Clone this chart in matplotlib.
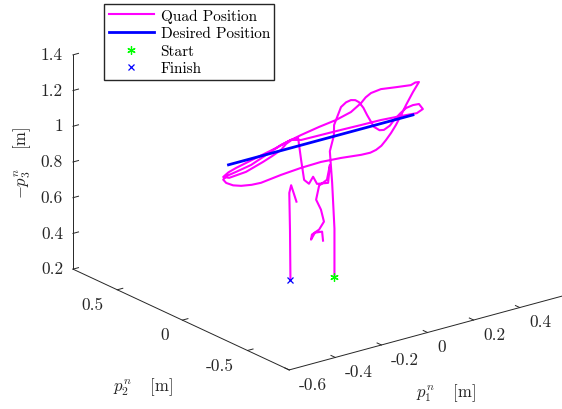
import numpy as np
import matplotlib
matplotlib.use('Agg')
import matplotlib.pyplot as plt
from mpl_toolkits.mplot3d import proj3d

plt.rcParams['font.family'] = 'cmr10'
plt.rcParams['mathtext.fontset'] = 'cm'
plt.rcParams['axes.unicode_minus'] = False

# desired straight-line path
des_x = [-0.4, 0.4]
des_y = [0.0, 0.0]
des_z = [1.0, 1.0]

takeoff_x = [0.02, 0.02, 0.01, 0.00]
takeoff_y = [-0.07, -0.07, -0.07, -0.07]
takeoff_z = [0.25, 0.52, 0.78, 0.96]

sweep_x = [0.040, 0.058, 0.088, 0.110, 0.131, 0.150, 0.166, 0.185, 0.201, 0.231,
           0.255, 0.274, 0.300, 0.318, 0.345, 0.370, 0.400, 0.426, 0.443, 0.417,
           0.348, 0.261, 0.175, 0.088, 0.001, -0.085, -0.129, -0.172, -0.237, -0.302,
           -0.367, -0.410, -0.423, -0.410, -0.380, -0.345, -0.300, -0.259, -0.172, -0.085,
           0.001, 0.088, 0.175, 0.215, 0.240, 0.263, 0.283, 0.305, 0.326, 0.350,
           0.370, 0.400, 0.426, 0.410, 0.391, 0.326, 0.261, 0.218, 0.195, 0.175,
           0.131, 0.066, -0.007, -0.085, -0.120, -0.150, -0.172, -0.210, -0.250, -0.324,
           -0.397, -0.423, -0.400, -0.367, -0.280, -0.194, -0.129, -0.098]
sweep_y = [-0.03, 0.00, 0.00, 0.00, 0.00, 0.00, 0.00, 0.00, 0.00, 0.00,
           0.00, 0.00, 0.00, 0.00, 0.00, 0.00, 0.00, 0.00, 0.00, 0.00,
           0.00, 0.00, 0.00, 0.00, 0.00, 0.00, 0.00, 0.00, 0.00, 0.00,
           0.00, 0.00, 0.00, 0.00, 0.00, 0.00, 0.00, 0.00, 0.00, 0.00,
           0.00, 0.00, 0.00, 0.00, 0.00, 0.00, 0.00, 0.00, 0.00, 0.00,
           0.00, 0.00, 0.00, 0.00, 0.00, 0.00, 0.00, 0.00, 0.00, 0.00,
           0.00, 0.00, 0.00, 0.00, 0.00, 0.00, 0.00, 0.00, 0.00, 0.00,
           0.00, 0.00, 0.00, 0.00, 0.00, 0.00, 0.00, 0.00]
sweep_z = [1.020, 1.063, 1.153, 1.172, 1.177, 1.170, 1.153, 1.115, 1.069, 0.992,
           0.965, 0.960, 0.975, 1.000, 1.028, 1.049, 1.055, 1.052, 1.018, 1.004,
           1.012, 1.020, 1.022, 1.025, 1.027, 1.029, 1.045, 1.032, 0.998, 0.965,
           0.949, 0.940, 0.925, 0.902, 0.878, 0.863, 0.853, 0.850, 0.864, 0.873,
           0.876, 0.868, 0.855, 0.853, 0.860, 0.875, 0.900, 0.932, 0.969, 1.020,
           1.066, 1.128, 1.175, 1.178, 1.170, 1.181, 1.193, 1.186, 1.170, 1.145,
           1.110, 1.088, 1.075, 1.057, 1.047, 1.030, 1.004, 0.983, 0.964, 0.934,
           0.926, 0.940, 0.958, 0.971, 0.997, 1.022, 1.045, 1.045]

drop_x = [-0.085, -0.072, -0.051, -0.033, -0.016, 0.032, 0.040, 0.027, -0.007, -0.020,
          0.001, 0.014, -0.007, -0.038, -0.042, -0.025, 0.006, 0.010]
drop_y = [0.00, 0.00, 0.00, 0.00, 0.00, 0.00, 0.00, 0.00, 0.00, 0.00,
          0.00, 0.00, 0.00, 0.00, 0.00, 0.00, 0.00, 0.00]
drop_z = [0.917, 0.801, 0.772, 0.805, 0.759, 0.748, 0.846, 0.767, 0.746, 0.672,
          0.609, 0.537, 0.500, 0.483, 0.456, 0.489, 0.484, 0.432]

land_x = [-0.094, -0.117, -0.125, -0.122, -0.120]
land_y = [0.02, 0.02, 0.02, 0.02, 0.02]
land_z = [0.68, 0.78, 0.74, 0.53, 0.25]

quad_x = np.array(takeoff_x + sweep_x + drop_x + [np.nan] + land_x)
quad_y = np.array(takeoff_y + sweep_y + drop_y + [np.nan] + land_y)
quad_z = np.array(takeoff_z + sweep_z + drop_z + [np.nan] + land_z)

xticks = [-0.6, -0.4, -0.2, 0, 0.2, 0.4]
yticks = [-0.5, 0, 0.5]
zticks = [0.2, 0.4, 0.6, 0.8, 1.0, 1.2, 1.4]

W, H = 562, 410
fig = plt.figure(figsize=(W / 100, H / 100), dpi=100)
ax = fig.add_axes([0.1, 0.1, 0.8 * H / W, 0.8], projection='3d',
                  proj_type='ortho', computed_zorder=False)
ax.view_init(elev=20.8, azim=-127.3)
ax.set_box_aspect((349, 358, 230))
ax.set_xlim(-0.6, 0.6)
ax.set_ylim(-0.82, 0.84)
ax.set_zlim(0.2, 1.4)

ax.plot(quad_x, quad_y, quad_z, color=(1, 0, 1), lw=1.5, label='Quad Position', zorder=2)
ax.plot(des_x, des_y, des_z, color=(0, 0, 1), lw=2, label='Desired Position', zorder=3)
ax.plot([quad_x[0]], [quad_y[0]], [quad_z[0]], ls='none', marker=(6, 2, 0), ms=6,
        mec=(0, 1, 0), mew=0.9, label='Start', zorder=4)
ax.plot([quad_x[-1]], [quad_y[-1]], [quad_z[-1]], ls='none', marker='x', ms=5,
        mec=(0, 0, 1), mew=0.9, label='Finish', zorder=4)

ax.grid(False)
for axis in (ax.xaxis, ax.yaxis, ax.zaxis):
    axis.set_pane_color((1, 1, 1, 0))
    axis.pane.set_edgecolor((1, 1, 1, 0))
    axis.line.set_color('0.15')
    axis.line.set_linewidth(0.7)
    axis._axinfo['tick']['inward_factor'] = 0.0
    axis._axinfo['tick']['outward_factor'] = 0.25
    axis._axinfo['tick']['linewidth'] = {True: 0.7, False: 0.5}

ax.set_xticks(xticks)
ax.set_xticklabels(['%g' % v for v in xticks], ha='left', va='center')
ax.set_yticks(yticks)
ax.set_yticklabels(['%g' % v for v in yticks], ha='right', va='center')
ax.set_zticks(zticks)
ax.set_zticklabels(['%g' % v for v in zticks], ha='right', va='center')
ax.tick_params(labelsize=12.5, colors='0.15')
ax.tick_params(axis='x', pad=1)
ax.tick_params(axis='y', pad=2)
ax.tick_params(axis='z', pad=-4)

# axis titles placed where the reference shows them
fig.text(446 / W, 1 - 393 / H, r'$p_1^n\quad\;[\mathrm{m}]$', fontsize=12,
         color='0.15', ha='center', va='center')
fig.text(143 / W, 1 - 387 / H, r'$p_2^n\quad\;[\mathrm{m}]$', fontsize=12,
         color='0.15', ha='center', va='center')
fig.text(22 / W, 1 - 163 / H, r'$-p_3^n\quad\;[\mathrm{m}]$', fontsize=12,
         color='0.15', ha='center', va='center', rotation=90)

# fit the projected box onto the reference corner positions (pixel targets)
corners = [(-0.6, -0.82, 0.2), (-0.6, 0.84, 0.2), (-0.6, 0.84, 1.4), (0.6, -0.82, 0.2)]
targets = np.array([(289, 371), (72, 270), (74, 56), (566, 296)], float)
targets[:, 1] = H - targets[:, 1]


def corner_px():
    out = []
    for c in corners:
        xs, ys, _ = proj3d.proj_transform(c[0], c[1], c[2], ax.get_proj())
        out.append(ax.transData.transform((xs, ys)))
    return np.array(out)


for _ in range(2):
    fig.canvas.draw()
    bb = ax.get_position().transformed(fig.transFigure)
    s0 = bb.width
    c0 = np.array([bb.x0 + bb.width / 2, bb.y0 + bb.height / 2])
    f = (corner_px() - c0) / s0
    A = np.zeros((8, 3))
    b = np.zeros(8)
    for i in range(4):
        A[2 * i] = [f[i, 0], 1, 0]
        A[2 * i + 1] = [f[i, 1], 0, 1]
        b[2 * i], b[2 * i + 1] = targets[i]
    S, cx, cy = np.linalg.lstsq(A, b, rcond=None)[0]
    ax.set_position([(cx - S / 2) / W, (cy - S / 2) / H, S / W, S / H])

fig.legend(loc='upper left', bbox_to_anchor=(104 / W, 1 - 5 / H), fontsize=11,
           frameon=True, fancybox=False, edgecolor='0.15', framealpha=1,
           handlelength=3.0, handletextpad=0.4, labelspacing=0.25, borderpad=0.3,
           borderaxespad=0)

fig.savefig('out.png', dpi=100)
